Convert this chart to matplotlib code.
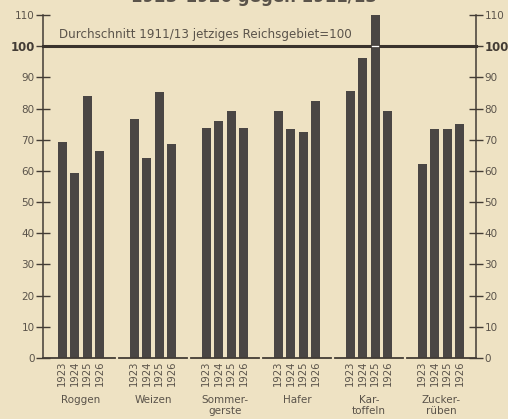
import numpy as np
import matplotlib.pyplot as plt

# Ernteerträge 1923-1926 gegen 1911/13 (= 100)
crops = ['Roggen', 'Weizen', 'Sommer-\ngerste', 'Hafer', 'Kar-\ntoffeln', 'Zucker-\nrüben']
years = ['1923', '1924', '1925', '1926']
values = {
    'Roggen':         [69.4, 59.2, 84.0, 66.5],
    'Weizen':         [76.7, 64.2, 85.4, 68.6],
    'Sommergerste':   [73.8, 76.1, 79.3, 73.9],
    'Hafer':          [79.3, 73.3, 72.4, 82.3],
    'Kartoffeln':     [85.7, 96.1, 110.1, 79.1],
    'Zuckerrueben':   [62.1, 73.3, 73.5, 75.1],
}
yticks = [0, 10, 20, 30, 40, 50, 60, 70, 80, 90, 100, 110]

bg = '#eee2c3'
bar_col = '#4a4644'
ink = '#433c35'
txt = '#5a534a'

fig = plt.figure(figsize=(5.08, 4.19), dpi=100, facecolor=bg)
ax = fig.add_axes([43 / 508, 61 / 419, 433 / 508, 343 / 419])
ax.set_facecolor(bg)

group_gap = 72
bar_gap = 12.5
offsets = (np.arange(len(years)) - 1.5) * bar_gap

xs, labels = [], []
for i, key in enumerate(values):
    c = i * group_gap
    pos = c + offsets
    ax.bar(pos, values[key], width=9, color=bar_col, zorder=2)
    xs.extend(pos)
    labels.extend(years)
    # Grundlinie je Gruppe
    x0 = -38 if i == 0 else c - 34
    x1 = 395 if i == len(values) - 1 else c + 34
    ax.plot([x0, x1], [0, 0], color=ink, lw=1.3, zorder=3, clip_on=False)
    ax.annotate(crops[i], xy=(c, 0), xycoords=('data', 'axes fraction'),
                xytext=(0, -26.5), textcoords='offset points',
                ha='center', va='top', fontsize=7.5, color=txt,
                linespacing=1.15)

# Linie 100
ax.plot([-38, 395], [100, 100], color='#3a332d', lw=2.2, zorder=4, clip_on=False)
kx = 4 * group_gap + offsets[2]
ax.plot([kx - 3, kx + 3], [100, 100], color='white', lw=1.0, zorder=5)
ax.text(-22, 103.6, 'Durchschnitt 1911/13 jetziges Reichsgebiet=100',
        fontsize=8.6, color=txt, va='center', ha='left')

ax.set_xlim(-38, 395)
ax.set_ylim(0, 110)
ax.set_xticks(xs)
ax.set_xticklabels(labels, rotation=90, fontsize=7.2, color=txt)
ax.tick_params(axis='x', length=0, pad=2)

ax.set_yticks(yticks)
ax.set_yticklabels([str(t) for t in yticks])
ax.tick_params(axis='y', direction='inout', length=10, width=1, color=ink,
               labelsize=7.5, labelcolor=txt, left=True, right=True,
               labelleft=True, labelright=True, pad=1)
for t in ax.yaxis.get_major_ticks():
    if t.label1.get_text() == '100':
        for lab in (t.label1, t.label2):
            lab.set_fontsize(8.5)
            lab.set_fontweight('bold')
            lab.set_color(ink)

for s in ['top', 'bottom']:
    ax.spines[s].set_visible(False)
for s in ['left', 'right']:
    ax.spines[s].set_color(ink)
    ax.spines[s].set_linewidth(1.1)

# Titel, oben abgeschnitten wie in der Vorlage
fig.text(0.5, 1 - 2 / 419, '1923\u20131926 gegen 1911/13', ha='center',
         va='baseline', fontsize=12, fontweight='bold', color=txt)

fig.savefig('out.png', dpi=100, facecolor=bg)
